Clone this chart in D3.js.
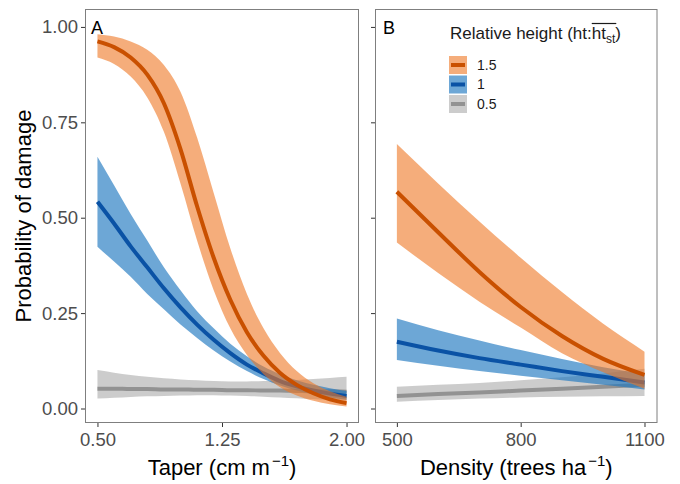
<!DOCTYPE html>
<html>
<head>
<meta charset="utf-8">
<script src="https://cdn.jsdelivr.net/npm/d3@7/dist/d3.min.js"></script>
<style>
  body { margin: 0; background: #fff; }
  text { font-family: "Liberation Sans", Arial, sans-serif; }
</style>
</head>
<body>
<script>
// --- data ---
var taper = [0.5, 0.6, 0.7, 0.8, 0.9, 1.0, 1.1, 1.2, 1.3, 1.4, 1.5, 1.6, 1.7, 1.8, 1.9, 2.0];

var taperFit15  = [0.962, 0.947, 0.92, 0.875, 0.80, 0.68, 0.53, 0.395, 0.285, 0.20, 0.138, 0.093, 0.062, 0.040, 0.024, 0.014];
var taperHigh15 = [0.981, 0.975, 0.962, 0.94, 0.90, 0.83, 0.71, 0.565, 0.42, 0.30, 0.21, 0.145, 0.098, 0.066, 0.045, 0.031];
var taperLow15  = [0.92, 0.903, 0.87, 0.815, 0.725, 0.59, 0.44, 0.31, 0.21, 0.14, 0.09, 0.056, 0.034, 0.02, 0.011, 0.005];

var taperFit10  = [0.542, 0.485, 0.425, 0.37, 0.315, 0.265, 0.22, 0.18, 0.145, 0.115, 0.092, 0.072, 0.058, 0.047, 0.039, 0.033];
var taperHigh10 = [0.66, 0.585, 0.51, 0.44, 0.37, 0.31, 0.255, 0.21, 0.17, 0.137, 0.11, 0.09, 0.074, 0.062, 0.053, 0.046];
var taperLow10  = [0.424, 0.385, 0.345, 0.30, 0.26, 0.22, 0.185, 0.152, 0.123, 0.098, 0.077, 0.06, 0.047, 0.037, 0.029, 0.023];

var taperFit05  = [0.052, 0.052, 0.051, 0.051, 0.050, 0.050, 0.049, 0.049, 0.048, 0.048, 0.047, 0.047, 0.046, 0.045, 0.045, 0.044];
var taperHigh05 = [0.101, 0.094, 0.088, 0.083, 0.079, 0.076, 0.074, 0.072, 0.071, 0.071, 0.072, 0.073, 0.075, 0.077, 0.080, 0.083];
var taperLow05  = [0.026, 0.028, 0.030, 0.032, 0.033, 0.034, 0.035, 0.035, 0.034, 0.033, 0.031, 0.029, 0.027, 0.025, 0.023, 0.021];

var density = [500, 600, 700, 800, 900, 1000, 1100];

var densFit15  = [0.568, 0.462, 0.358, 0.266, 0.19, 0.13, 0.088];
var densHigh15 = [0.693, 0.59, 0.49, 0.395, 0.305, 0.222, 0.149];
var densLow15  = [0.435, 0.355, 0.28, 0.212, 0.145, 0.095, 0.052];

var densFit10  = [0.175, 0.152, 0.132, 0.115, 0.098, 0.083, 0.068];
var densHigh10 = [0.236, 0.205, 0.178, 0.153, 0.13, 0.108, 0.09];
var densLow10  = [0.127, 0.112, 0.098, 0.086, 0.074, 0.062, 0.05];

var densFit05  = [0.033, 0.038, 0.042, 0.047, 0.052, 0.057, 0.062];
var densHigh05 = [0.057, 0.062, 0.067, 0.074, 0.082, 0.092, 0.104];
var densLow05  = [0.018, 0.022, 0.026, 0.029, 0.031, 0.032, 0.033];

var groups = ["1.5", "1", "0.5"];
var yTicks = [0, 0.25, 0.5, 0.75, 1];
var taperTicks = [0.5, 1.25, 2.0];
var densTicks = [500, 800, 1100];

// --- styles ---
var ribbonCol = {"1.5": "#ee7623", "1": "#1f78c0", "0.5": "#999999"};
var ribbonAlpha = {"1.5": 0.6, "1": 0.65, "0.5": 0.5};
var lineCol = {"1.5": "#c95000", "1": "#0a52a5", "0.5": "#929292"};

var width = 680, height = 484;
var plotTop = 9, plotBottom = 423;

var svg = d3.select("body").append("svg")
    .attr("width", width)
    .attr("height", height);

var y = d3.scaleLinear().domain([-0.038, 1.047]).range([plotBottom, plotTop]);
var xA = d3.scaleLinear().domain([0.425, 2.075]).range([85, 359]);
var xB = d3.scaleLinear().domain([447, 1131.5]).range([375, 657.5]);

function makeSeries(xs, lo, fit, hi) {
  return xs.map(function(v, i) { return {x: v, lo: lo[i], fit: fit[i], hi: hi[i]}; });
}

var panels = [
  {x: xA, label: "A", labelX: 91, ticks: taperTicks, fmt: d3.format(".2f"), yLabels: true,
   title: ["Taper (cm m", "\u22121", ")"],
   series: {
     "0.5": makeSeries(taper, taperLow05, taperFit05, taperHigh05),
     "1": makeSeries(taper, taperLow10, taperFit10, taperHigh10),
     "1.5": makeSeries(taper, taperLow15, taperFit15, taperHigh15)
   }},
  {x: xB, label: "B", labelX: 383, ticks: densTicks, fmt: d3.format("d"), yLabels: false,
   title: ["Density (trees ha", "\u22121", ")"],
   series: {
     "0.5": makeSeries(density, densLow05, densFit05, densHigh05),
     "1": makeSeries(density, densLow10, densFit10, densHigh10),
     "1.5": makeSeries(density, densLow15, densFit15, densHigh15)
   }}
];

panels.forEach(function(p) {
  var x0 = p.x.range()[0], x1 = p.x.range()[1];
  var g = svg.append("g");

  var clip = "clip" + p.label;
  svg.append("clipPath").attr("id", clip)
    .append("rect").attr("x", x0).attr("y", plotTop).attr("width", x1 - x0).attr("height", plotBottom - plotTop);

  var plot = g.append("g").attr("clip-path", "url(#" + clip + ")");

  var area = d3.area()
      .x(function(d) { return p.x(d.x); })
      .y0(function(d) { return y(d.lo); })
      .y1(function(d) { return y(d.hi); })
      .curve(d3.curveMonotoneX);
  var line = d3.line()
      .x(function(d) { return p.x(d.x); })
      .y(function(d) { return y(d.fit); })
      .curve(d3.curveMonotoneX);

  // draw 0.5 first, 1.5 last
  groups.slice().reverse().forEach(function(k) {
    plot.append("path")
      .datum(p.series[k])
      .attr("d", area)
      .attr("fill", ribbonCol[k])
      .attr("fill-opacity", ribbonAlpha[k]);
    plot.append("path")
      .datum(p.series[k])
      .attr("d", line)
      .attr("fill", "none")
      .attr("stroke", lineCol[k])
      .attr("stroke-width", 4);
  });

  // panel border
  g.append("rect")
    .attr("x", x0 + 0.5).attr("y", plotTop + 0.5)
    .attr("width", x1 - x0 - 1).attr("height", plotBottom - plotTop - 1)
    .attr("fill", "none").attr("stroke", "#7f7f7f").attr("stroke-width", 1);

  var yAxis = g.append("g")
    .attr("transform", "translate(" + x0 + ",0)")
    .call(d3.axisLeft(y).tickValues(yTicks)
      .tickFormat(p.yLabels ? d3.format(".2f") : function() { return ""; })
      .tickSize(4).tickPadding(3));
  var xAxis = g.append("g")
    .attr("transform", "translate(0," + plotBottom + ")")
    .call(d3.axisBottom(p.x).tickValues(p.ticks).tickFormat(p.fmt).tickSize(4).tickPadding(6));

  [yAxis, xAxis].forEach(function(a) {
    a.select(".domain").remove();
    a.selectAll(".tick line").attr("stroke", "#333");
    a.selectAll(".tick text")
      .attr("fill", "#4d4d4d")
      .style("font-size", "18.5px");
  });

  // panel letter
  g.append("text")
    .attr("x", p.labelX).attr("y", 34)
    .style("font-size", "18px")
    .attr("fill", "#000")
    .text(p.label);

  // axis title
  var t = g.append("text")
    .attr("x", (x0 + x1) / 2).attr("y", 475)
    .attr("text-anchor", "middle")
    .style("font-size", "22px")
    .attr("fill", "#000");
  t.append("tspan").text(p.title[0]);
  t.append("tspan").attr("dy", -9).attr("dx", 2).style("font-size", "15px").text(p.title[1]);
  t.append("tspan").attr("dy", 9).text(p.title[2]);
});

// y title
svg.append("text")
  .attr("transform", "translate(31," + (plotTop + plotBottom) / 2 + ") rotate(-90)")
  .attr("text-anchor", "middle")
  .style("font-size", "22px")
  .attr("fill", "#000")
  .text("Probability of damage");

// legend
var leg = svg.append("g");
var lt = leg.append("text")
  .attr("x", 450).attr("y", 39)
  .style("font-size", "17px")
  .attr("fill", "#1a1a1a");
lt.append("tspan").text("Relative height (ht:");
lt.append("tspan").text("ht");
lt.append("tspan").attr("dy", 4).style("font-size", "12px").text("st");
lt.append("tspan").attr("dy", -4).text(")");

var node = lt.node();
var ox0 = node.getStartPositionOfChar(20).x;
var ox1 = node.getEndPositionOfChar(23).x;
leg.append("line")
  .attr("x1", ox0).attr("x2", ox1 + 1)
  .attr("y1", 23.5).attr("y2", 23.5)
  .attr("stroke", "#1a1a1a").attr("stroke-width", 1.2);

groups.forEach(function(k, i) {
  var ky = 56 + i * 19.5;
  leg.append("rect")
    .attr("x", 449).attr("y", ky)
    .attr("width", 18).attr("height", 18)
    .attr("fill", ribbonCol[k])
    .attr("fill-opacity", ribbonAlpha[k]);
  leg.append("line")
    .attr("x1", 451).attr("x2", 465)
    .attr("y1", ky + 9).attr("y2", ky + 9)
    .attr("stroke", lineCol[k]).attr("stroke-width", 4);
  leg.append("text")
    .attr("x", 477).attr("y", ky + 9)
    .attr("dy", "0.35em")
    .style("font-size", "14px")
    .attr("fill", "#1a1a1a")
    .text(k);
});
</script>
</body>
</html>
